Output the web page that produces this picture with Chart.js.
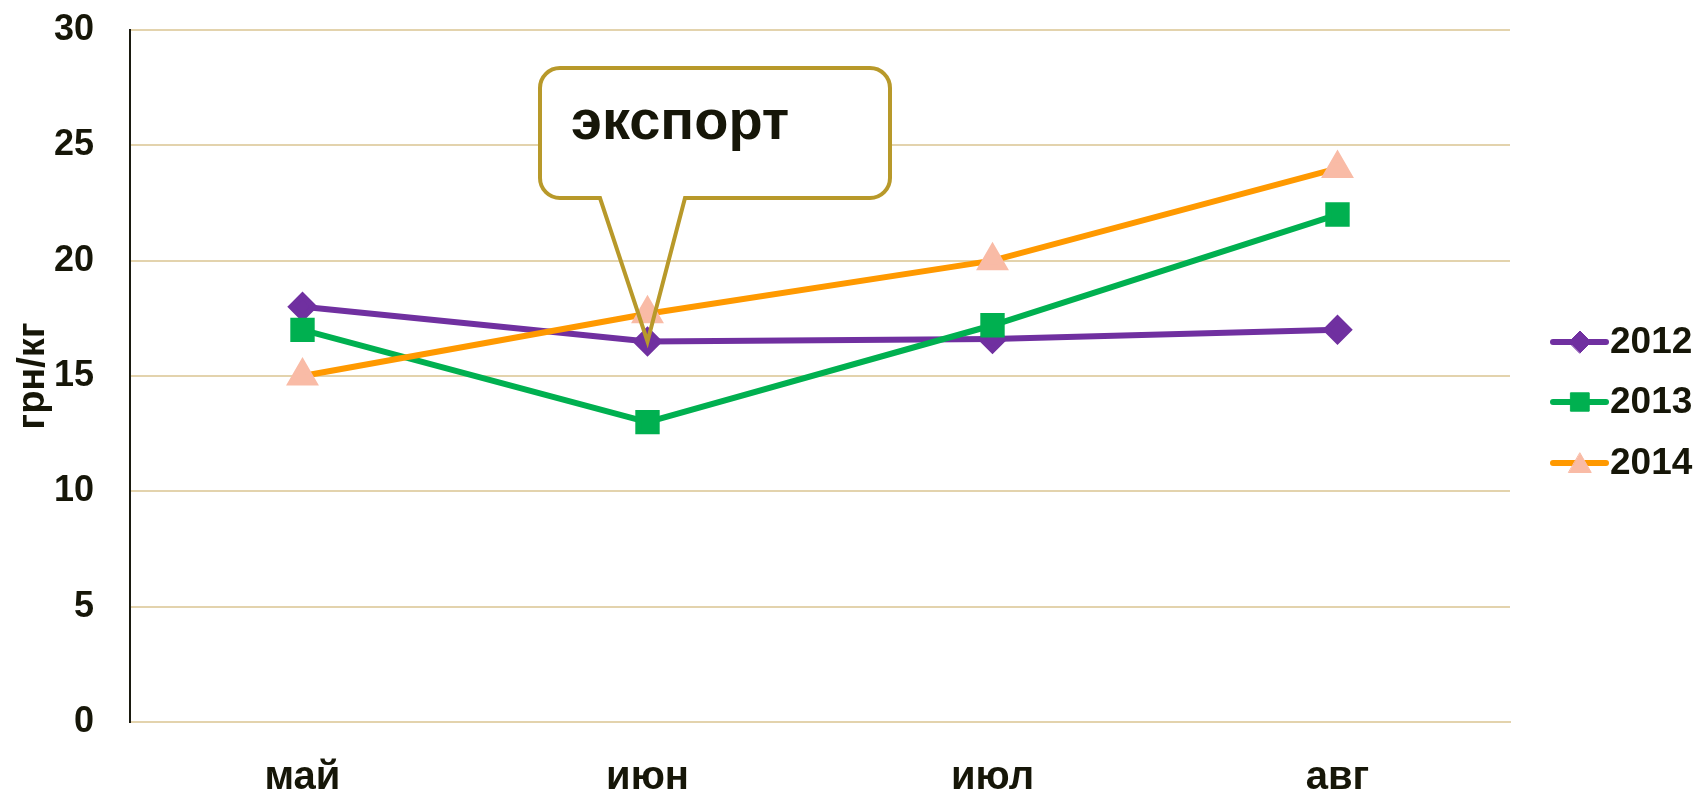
<!DOCTYPE html>
<html>
<head>
<meta charset="utf-8">
<script src="https://cdn.jsdelivr.net/npm/chart.js@4/dist/chart.umd.min.js"></script>
<style>
  html, body { margin: 0; padding: 0; background: #fff; overflow: hidden; }
  #wrap { width: 1700px; height: 789px; }
</style>
</head>
<body>
<div id="wrap"><canvas id="chart" width="1700" height="789"></canvas></div>
<script>
// --- Data ---
const months = ['май', 'июн', 'июл', 'авг'];
const years = ['2012', '2013', '2014'];
const values2012 = [18, 16.5, 16.6, 17];
const values2013 = [17, 13, 17.2, 22];
const values2014 = [15, 17.7, 20, 24];
const yTicks = [0, 5, 10, 15, 20, 25, 30];
const calloutText = 'экспорт';
const yTitle = 'грн/кг';

const FONT = "'Liberation Sans', Arial, sans-serif";
const TEXT = '#161608';
const GRID = '#e3d3ad';

// --- Callout box (drawn over plot, tip points at июн / 2012) ---
const calloutPlugin = {
    id: 'callout',
    beforeDatasetsDraw(chart) {
        const ctx = chart.ctx;
        ctx.save();
        ctx.fillStyle = '#fff';
        roundRect(ctx, 540, 68, 350, 130, 20);
        ctx.fill();
        ctx.restore();
    },
    afterDatasetsDraw(chart) {
        const ctx = chart.ctx;
        const tip = chart.getDatasetMeta(0).data[1];
        const x0 = 540, y0 = 68, x1 = 890, y1 = 198, r = 20;
        const tl = 600, tr = 685;
        ctx.save();
        ctx.strokeStyle = '#b8992a';
        ctx.lineWidth = 4;
        ctx.beginPath();
        ctx.moveTo(x0 + r, y0);
        ctx.lineTo(x1 - r, y0);
        ctx.arcTo(x1, y0, x1, y0 + r, r);
        ctx.lineTo(x1, y1 - r);
        ctx.arcTo(x1, y1, x1 - r, y1, r);
        ctx.lineTo(tr, y1);
        ctx.lineTo(tip.x, tip.y);
        ctx.lineTo(tl, y1);
        ctx.lineTo(x0 + r, y1);
        ctx.arcTo(x0, y1, x0, y1 - r, r);
        ctx.lineTo(x0, y0 + r);
        ctx.arcTo(x0, y0, x0 + r, y0, r);
        ctx.closePath();
        ctx.stroke();

        ctx.fillStyle = TEXT;
        ctx.font = 'bold 56px ' + FONT;
        ctx.textBaseline = 'alphabetic';
        ctx.textAlign = 'left';
        ctx.fillText(calloutText, 571, 139);
        ctx.restore();
    }
};

function roundRect(ctx, x, y, w, h, r) {
    ctx.beginPath();
    ctx.moveTo(x + r, y);
    ctx.arcTo(x + w, y, x + w, y + h, r);
    ctx.arcTo(x + w, y + h, x, y + h, r);
    ctx.arcTo(x, y + h, x, y, r);
    ctx.arcTo(x, y, x + w, y, r);
    ctx.closePath();
}

// --- Legend: line + marker like the original ---
const lineLegendPlugin = {
    id: 'lineLegend',
    afterDraw(chart) {
        const ctx = chart.ctx;
        const rows = [342, 402, 463];
        ctx.save();
        chart.data.datasets.forEach((ds, i) => {
            const y = rows[i];
            ctx.strokeStyle = ds.borderColor;
            ctx.lineWidth = 6;
            ctx.lineCap = 'round';
            ctx.beginPath();
            ctx.moveTo(1553, y);
            ctx.lineTo(1606, y);
            ctx.stroke();
            ctx.fillStyle = ds.pointBackgroundColor;
            ctx.strokeStyle = ds.pointBorderColor;
            ctx.lineWidth = 1;
            Chart.helpers.drawPoint(ctx, {
                pointStyle: ds.pointStyle,
                radius: ds.pointRadius,
                rotation: 0,
                borderWidth: 1
            }, 1580, ds.pointStyle === 'triangle' ? y + 3 : y);
            ctx.fillStyle = TEXT;
            ctx.font = 'bold 37px ' + FONT;
            ctx.textBaseline = 'middle';
            ctx.textAlign = 'left';
            ctx.fillText(ds.label, 1610, y + 1);
        });
        ctx.restore();
    }
};

const ctx = document.getElementById('chart').getContext('2d');

new Chart(ctx, {
    type: 'line',
    data: {
        labels: months,
        datasets: [{
            label: years[0],
            data: values2012,
            borderColor: '#7030a0',
            pointBackgroundColor: '#7030a0',
            pointBorderColor: '#7030a0',
            pointStyle: 'rectRot',
            pointRadius: 11,
            borderWidth: 6,
            tension: 0,
            order: 2
        }, {
            label: years[1],
            data: values2013,
            borderColor: '#00b050',
            pointBackgroundColor: '#00b050',
            pointBorderColor: '#00b050',
            pointStyle: 'rect',
            pointRadius: 13,
            borderWidth: 6,
            tension: 0,
            order: 1
        }, {
            label: years[2],
            data: values2014,
            borderColor: '#ff9900',
            pointBackgroundColor: '#f9bba6',
            pointBorderColor: '#f9bba6',
            pointStyle: 'triangle',
            pointRadius: 13,
            borderWidth: 6,
            tension: 0,
            order: 0
        }]
    },
    options: {
        responsive: false,
        animation: false,
        layout: { padding: { top: 30, right: 190, left: 0, bottom: 0 } },
        plugins: {
            legend: { display: false },
            tooltip: { enabled: false }
        },
        scales: {
            x: {
                offset: true,
                grid: { display: false, drawTicks: false },
                border: { color: GRID, width: 2 },
                ticks: {
                    color: TEXT,
                    padding: 32,
                    font: { family: FONT, size: 40, weight: 'bold' }
                },
                afterFit(scale) { scale.height = 67; }
            },
            y: {
                min: 0,
                max: 30,
                afterBuildTicks(scale) { scale.ticks = yTicks.map(v => ({ value: v })); },
                grid: { color: GRID, lineWidth: 2, drawTicks: false },
                border: { color: '#1a1a10', width: 2 },
                ticks: {
                    color: TEXT,
                    padding: 36,
                    font: { family: FONT, size: 36, weight: 'bold' }
                },
                title: {
                    display: true,
                    text: yTitle,
                    color: TEXT,
                    padding: { top: 11, bottom: 0 },
                    font: { family: FONT, size: 38, weight: 'bold' }
                },
                afterFit(scale) {
                    scale.width = 130;
                    scale.paddingTop = 0;
                    scale.paddingBottom = 0;
                }
            }
        }
    },
    plugins: [calloutPlugin, lineLegendPlugin]
});
</script>
</body>
</html>
